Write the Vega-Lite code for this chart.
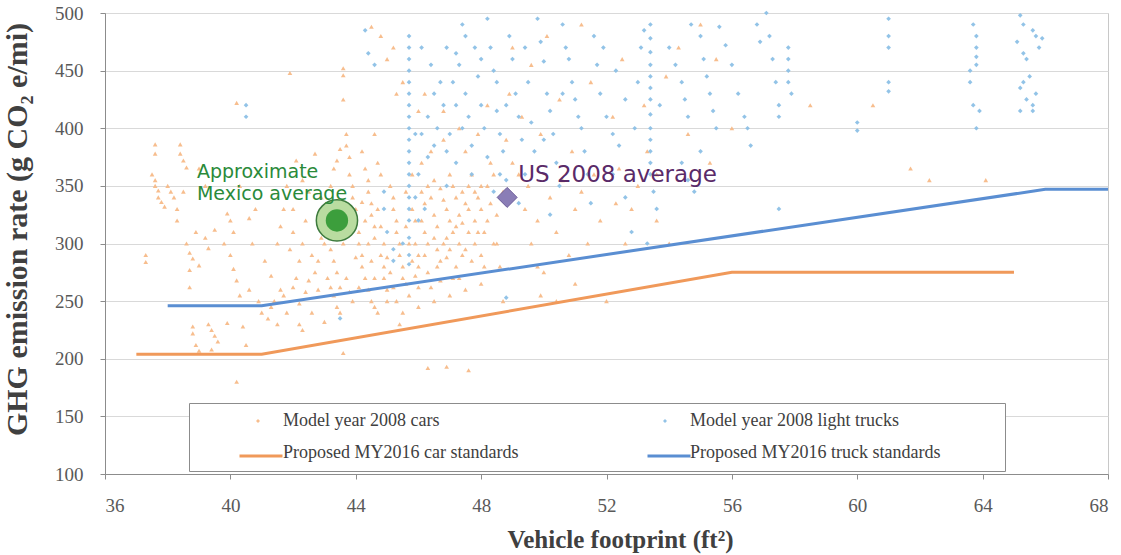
{
  "$schema": "https://vega.github.io/schema/vega-lite/v6.json",
  "width": 1003,
  "height": 461,
  "autosize": {"type": "none"},
  "padding": {"left": 105, "top": 13, "right": 13, "bottom": 81},
  "background": "white",
  "config": {
    "view": {"stroke": "#c8c8c8"},
    "axis": {
      "labelFont": "Liberation Serif",
      "labelFontSize": 19,
      "labelColor": "#595959",
      "titleFont": "Liberation Serif",
      "titleFontWeight": "bold",
      "titleColor": "#404040",
      "domainColor": "#8c8c8c",
      "tickColor": "#8c8c8c",
      "tickSize": 5,
      "gridColor": "#d9d9d9"
    }
  },
  "datasets": {
    "cars": [
      {"x":37.3,"y":290},{"x":37.3,"y":284},{"x":37.6,"y":386},{"x":37.6,"y":378},{"x":37.5,"y":360},{"x":37.6,"y":355},{"x":37.6,"y":350},{"x":37.7,"y":346},{"x":37.7,"y":340},{"x":37.8,"y":336},{"x":37.9,"y":332},{"x":38.0,"y":350},{"x":38.1,"y":345},{"x":38.2,"y":340},{"x":38.3,"y":330},{"x":38.4,"y":386},{"x":38.4,"y":378},{"x":38.5,"y":372},{"x":38.6,"y":366},{"x":38.3,"y":320},{"x":38.5,"y":345},{"x":38.6,"y":300},{"x":38.7,"y":292},{"x":38.8,"y":287},{"x":38.9,"y":310},{"x":39.0,"y":281},{"x":38.8,"y":228},{"x":38.8,"y":222},{"x":38.9,"y":212},{"x":39.0,"y":207},{"x":39.3,"y":230},{"x":39.4,"y":225},{"x":39.5,"y":220},{"x":39.6,"y":215},{"x":39.4,"y":208},{"x":39.2,"y":305},{"x":39.3,"y":296},{"x":39.5,"y":312},{"x":39.8,"y":300},{"x":39.9,"y":326},{"x":40.0,"y":320},{"x":40.1,"y":310},{"x":40.0,"y":290},{"x":40.1,"y":278},{"x":40.2,"y":268},{"x":40.3,"y":255},{"x":40.2,"y":422},{"x":40.2,"y":180},{"x":40.4,"y":228},{"x":40.5,"y":212},{"x":40.6,"y":260},{"x":40.7,"y":300},{"x":40.8,"y":330},{"x":40.9,"y":250},{"x":41.0,"y":240},{"x":38.7,"y":262},{"x":38.7,"y":277},{"x":39.9,"y":231},
      {"x":41.2,"y":235},{"x":41.3,"y":245},{"x":41.4,"y":250},{"x":41.5,"y":230},{"x":41.6,"y":260},{"x":41.7,"y":255},{"x":41.8,"y":240},{"x":41.5,"y":300},{"x":41.6,"y":315},{"x":41.7,"y":330},{"x":41.8,"y":350},{"x":41.9,"y":295},{"x":42.0,"y":310},{"x":42.1,"y":270},{"x":42.2,"y":285},{"x":42.3,"y":300},{"x":42.2,"y":230},{"x":42.3,"y":225},{"x":42.4,"y":320},{"x":42.5,"y":345},{"x":42.6,"y":290},{"x":42.7,"y":275},{"x":42.8,"y":260},{"x":42.9,"y":305},{"x":42.4,"y":258},{"x":42.6,"y":240},{"x":41.9,"y":448},{"x":42.1,"y":372},{"x":42.7,"y":378},{"x":42.9,"y":340},
      {"x":43.0,"y":300},{"x":43.1,"y":310},{"x":43.2,"y":295},{"x":43.3,"y":285},{"x":43.1,"y":270},{"x":43.2,"y":262},{"x":43.3,"y":255},{"x":43.4,"y":245},{"x":43.5,"y":240},{"x":43.0,"y":232},{"x":43.6,"y":300},{"x":43.6,"y":452},{"x":43.6,"y":446},{"x":43.6,"y":425},{"x":43.7,"y":395},{"x":43.7,"y":385},{"x":43.8,"y":375},{"x":43.8,"y":360},{"x":43.9,"y":350},{"x":43.9,"y":340},{"x":44.0,"y":330},{"x":44.0,"y":320},{"x":44.1,"y":310},{"x":44.1,"y":300},{"x":44.2,"y":290},{"x":44.2,"y":280},{"x":44.3,"y":270},{"x":44.3,"y":365},{"x":44.4,"y":355},{"x":44.4,"y":345},{"x":44.5,"y":335},{"x":44.5,"y":325},{"x":44.6,"y":315},{"x":44.6,"y":305},{"x":44.4,"y":260},{"x":44.5,"y":250},{"x":44.6,"y":245},{"x":44.7,"y":240},{"x":43.6,"y":205},{"x":44.2,"y":380},{"x":44.6,"y":395},{"x":44.7,"y":370},{"x":44.8,"y":360},{"x":44.8,"y":290},{"x":44.9,"y":280},{"x":44.9,"y":270},{"x":45.0,"y":260},{"x":45.0,"y":250},
      {"x":45.1,"y":350},{"x":45.2,"y":340},{"x":45.2,"y":330},{"x":45.3,"y":320},{"x":45.3,"y":310},{"x":45.4,"y":300},{"x":45.4,"y":290},{"x":45.5,"y":280},{"x":45.5,"y":270},{"x":45.6,"y":345},{"x":45.6,"y":265},{"x":45.7,"y":255},{"x":45.8,"y":360},{"x":45.8,"y":330},{"x":45.9,"y":320},{"x":45.9,"y":300},{"x":46.0,"y":290},{"x":46.0,"y":280},{"x":46.1,"y":370},{"x":46.1,"y":345},{"x":46.2,"y":335},{"x":46.2,"y":310},{"x":46.3,"y":300},{"x":46.3,"y":275},{"x":46.4,"y":380},{"x":46.4,"y":262},{"x":46.5,"y":355},{"x":46.5,"y":325},{"x":46.6,"y":315},{"x":46.6,"y":295},{"x":46.7,"y":285},{"x":46.7,"y":348},{"x":46.8,"y":338},{"x":46.8,"y":390},{"x":46.9,"y":330},{"x":46.9,"y":305},{"x":47.0,"y":295},{"x":47.0,"y":360},{"x":47.1,"y":350},{"x":47.1,"y":270},{"x":47.2,"y":340},{"x":47.2,"y":315},{"x":47.3,"y":325},{"x":47.3,"y":300},{"x":47.4,"y":290},{"x":47.4,"y":345},{"x":47.5,"y":335},{"x":47.5,"y":380},{"x":47.6,"y":310},{"x":47.6,"y":350},{"x":47.7,"y":360},{"x":47.8,"y":300},{"x":47.8,"y":320},{"x":47.9,"y":340},{"x":48.0,"y":330},{"x":48.0,"y":290},{"x":48.1,"y":310},{"x":48.2,"y":350},{"x":48.3,"y":370},{"x":48.4,"y":300},{"x":48.5,"y":325},{"x":48.6,"y":280},{"x":48.7,"y":345},{"x":46.3,"y":192},{"x":46.9,"y":193},{"x":45.4,"y":230},{"x":46.0,"y":245},{"x":46.5,"y":250},{"x":47.0,"y":255},{"x":47.5,"y":260},{"x":48.0,"y":265},{"x":45.0,"y":460},{"x":45.5,"y":440},{"x":46.2,"y":430},{"x":46.8,"y":415},{"x":47.3,"y":400},{"x":47.9,"y":395},{"x":44.8,"y":480},{"x":45.2,"y":470},
      {"x":48.8,"y":390},{"x":49.0,"y":370},{"x":49.2,"y":360},{"x":49.4,"y":330},{"x":49.6,"y":300},{"x":49.8,"y":280},{"x":50.0,"y":275},{"x":49.5,"y":350},{"x":49.8,"y":320},{"x":50.2,"y":340},{"x":50.4,"y":310},{"x":50.6,"y":355},{"x":50.8,"y":290},{"x":51.0,"y":330},{"x":51.2,"y":345},{"x":51.4,"y":300},{"x":51.6,"y":360},{"x":51.8,"y":320},{"x":52.0,"y":250},{"x":52.3,"y":335},{"x":52.6,"y":300},{"x":52.8,"y":330},{"x":53.0,"y":350},{"x":53.3,"y":380},{"x":53.6,"y":320},{"x":54.0,"y":300},{"x":49.0,"y":470},{"x":49.6,"y":455},{"x":50.1,"y":480},{"x":51.2,"y":490},{"x":52.5,"y":460},{"x":53.9,"y":445},{"x":54.3,"y":470},{"x":55.0,"y":490},{"x":55.5,"y":460},{"x":49.9,"y":255},{"x":50.4,"y":250},{"x":51.0,"y":265},{"x":48.7,"y":250},{"x":47.6,"y":190},
      {"x":56.0,"y":400},{"x":58.5,"y":420},{"x":60.5,"y":420},{"x":62.3,"y":355},{"x":61.7,"y":365},{"x":64.1,"y":355},
      {"x":42.0,"y":262},{"x":42.2,"y":248},{"x":42.5,"y":268},{"x":42.8,"y":285},{"x":43.0,"y":322},{"x":43.1,"y":335},{"x":43.2,"y":350},{"x":43.3,"y":365},{"x":43.4,"y":372},{"x":43.5,"y":382},{"x":43.4,"y":275},{"x":43.5,"y":262},{"x":43.7,"y":270},{"x":43.8,"y":258},{"x":43.9,"y":250},{"x":44.0,"y":288},{"x":44.1,"y":262},{"x":44.2,"y":336},{"x":44.3,"y":320},{"x":44.4,"y":300},{"x":44.5,"y":285},{"x":44.6,"y":270},{"x":44.7,"y":330},{"x":44.8,"y":315},{"x":44.9,"y":300},{"x":45.0,"y":288},{"x":45.1,"y":275},{"x":45.2,"y":262},{"x":45.3,"y":250},{"x":45.5,"y":240},{"x":45.6,"y":315},{"x":45.7,"y":300},{"x":45.8,"y":285},{"x":45.9,"y":272},{"x":46.0,"y":262},{"x":46.1,"y":320},{"x":46.2,"y":290},{"x":46.3,"y":350},{"x":46.4,"y":340},{"x":46.5,"y":305},{"x":46.6,"y":280},{"x":46.7,"y":268},{"x":46.8,"y":300},{"x":46.9,"y":288},{"x":47.0,"y":320},{"x":47.1,"y":310},{"x":47.2,"y":280},{"x":47.3,"y":270},{"x":47.4,"y":318},{"x":47.5,"y":295},{"x":47.6,"y":330},{"x":47.7,"y":285},{"x":47.8,"y":345},{"x":47.9,"y":310},{"x":48.0,"y":350},{"x":48.1,"y":280},{"x":48.2,"y":320},{"x":48.3,"y":335},{"x":48.4,"y":360},{"x":48.5,"y":300},{"x":44.5,"y":488},{"x":45.3,"y":430},{"x":46.0,"y":415},{"x":48.2,"y":420},{"x":48.9,"y":430},{"x":49.3,"y":410},{"x":50.5,"y":425},{"x":51.5,"y":440},{"x":52.2,"y":410},{"x":53.2,"y":420},{"x":54.6,"y":395},{"x":55.3,"y":370},{"x":52.4,"y":365},{"x":53.6,"y":360},{"x":50.9,"y":380},{"x":49.9,"y":395},{"x":41.1,"y":285},{"x":41.3,"y":272},{"x":40.6,"y":322},{"x":40.3,"y":350},{"x":39.2,"y":350},{"x":39.0,"y":365},{"x":42.0,"y":330},{"x":42.3,"y":355}
    ],
    "trucks": [
      {"x":40.5,"y":420},{"x":40.5,"y":410},{"x":43.5,"y":235},{"x":44.3,"y":485},{"x":44.4,"y":465},{"x":44.6,"y":455},{"x":44.9,"y":345},{"x":44.9,"y":330},{"x":45.0,"y":310},{"x":45.2,"y":295},{"x":45.2,"y":285},
      {"x":45.7,"y":480},{"x":45.7,"y":470},{"x":45.7,"y":460},{"x":45.7,"y":450},{"x":45.7,"y":440},{"x":45.7,"y":430},{"x":45.7,"y":420},{"x":45.7,"y":410},{"x":45.7,"y":400},{"x":45.7,"y":390},{"x":45.7,"y":380},{"x":45.7,"y":370},{"x":45.7,"y":360},{"x":45.7,"y":350},{"x":45.7,"y":340},{"x":45.7,"y":330},{"x":45.7,"y":320},{"x":45.7,"y":305},{"x":45.7,"y":290},{"x":45.7,"y":282},
      {"x":45.9,"y":395},{"x":46.0,"y":360},{"x":46.2,"y":330},{"x":46.3,"y":375},{"x":46.5,"y":385},{"x":46.3,"y":410},{"x":46.6,"y":400},{"x":46.8,"y":420},{"x":46.9,"y":350},{"x":47.0,"y":395},{"x":47.1,"y":440},{"x":47.2,"y":465},{"x":47.3,"y":455},{"x":47.4,"y":490},{"x":47.5,"y":480},{"x":47.5,"y":430},{"x":47.6,"y":410},{"x":47.7,"y":385},{"x":47.7,"y":360},{"x":47.8,"y":470},{"x":47.9,"y":445},{"x":48.0,"y":460},{"x":48.0,"y":420},{"x":48.1,"y":400},{"x":48.2,"y":375},{"x":48.2,"y":495},{"x":48.3,"y":470},{"x":48.4,"y":450},{"x":48.5,"y":440},{"x":48.5,"y":415},{"x":48.6,"y":395},{"x":48.7,"y":380},{"x":48.6,"y":360},{"x":48.8,"y":355},{"x":48.4,"y":345},{"x":48.8,"y":253},
      {"x":48.9,"y":480},{"x":49.0,"y":460},{"x":49.1,"y":430},{"x":49.2,"y":410},{"x":49.3,"y":390},{"x":49.4,"y":470},{"x":49.5,"y":440},{"x":49.6,"y":405},{"x":49.7,"y":380},{"x":49.8,"y":495},{"x":49.9,"y":475},{"x":50.0,"y":458},{"x":50.1,"y":430},{"x":50.2,"y":415},{"x":50.3,"y":395},{"x":50.4,"y":370},{"x":50.5,"y":350},{"x":50.6,"y":490},{"x":50.7,"y":470},{"x":50.8,"y":460},{"x":50.9,"y":440},{"x":51.0,"y":425},{"x":51.1,"y":410},{"x":51.2,"y":400},{"x":51.3,"y":380},{"x":51.4,"y":360},{"x":51.5,"y":335},{"x":51.6,"y":480},{"x":51.7,"y":455},{"x":51.8,"y":430},{"x":52.0,"y":410},{"x":52.2,"y":395},{"x":52.4,"y":385},{"x":52.6,"y":340},{"x":52.8,"y":310},{"x":53.0,"y":440},{"x":53.1,"y":470},{"x":53.2,"y":485},
      {"x":53.4,"y":490},{"x":53.4,"y":478},{"x":53.4,"y":466},{"x":53.4,"y":455},{"x":53.4,"y":445},{"x":53.4,"y":435},{"x":53.4,"y":425},{"x":53.4,"y":412},{"x":53.4,"y":400},{"x":53.4,"y":390},{"x":53.4,"y":380},{"x":53.4,"y":370},{"x":53.4,"y":360},{"x":53.5,"y":345},{"x":53.6,"y":330},{"x":53.3,"y":300},{"x":53.7,"y":420},{"x":54.0,"y":470},{"x":54.2,"y":455},{"x":54.4,"y":440},{"x":54.5,"y":425},{"x":54.6,"y":410},{"x":54.4,"y":370},{"x":54.6,"y":355},{"x":54.8,"y":345},{"x":54.7,"y":490},{"x":55.0,"y":480},{"x":55.1,"y":460},{"x":55.2,"y":445},{"x":55.3,"y":430},{"x":55.4,"y":415},{"x":55.5,"y":400},{"x":55.0,"y":380},{"x":55.6,"y":488},{"x":55.8,"y":472},{"x":56.0,"y":455},{"x":56.2,"y":430},{"x":56.4,"y":410},{"x":56.5,"y":400},{"x":56.6,"y":385},
      {"x":57.1,"y":500},{"x":57.2,"y":480},{"x":57.3,"y":460},{"x":57.4,"y":440},{"x":57.5,"y":420},{"x":57.5,"y":410},{"x":57.5,"y":330},{"x":57.8,"y":470},{"x":57.8,"y":460},{"x":57.8,"y":450},{"x":57.8,"y":440},{"x":57.9,"y":430},{"x":56.8,"y":490},{"x":56.9,"y":475},
      {"x":60.0,"y":405},{"x":60.0,"y":398},{"x":61.0,"y":495},{"x":61.0,"y":480},{"x":61.0,"y":470},{"x":61.0,"y":440},{"x":61.0,"y":432},
      {"x":63.7,"y":490},{"x":63.8,"y":480},{"x":63.8,"y":470},{"x":63.8,"y":462},{"x":63.8,"y":455},{"x":63.6,"y":450},{"x":63.6,"y":440},{"x":63.7,"y":420},{"x":63.9,"y":415},{"x":63.8,"y":400},
      {"x":65.2,"y":498},{"x":65.3,"y":490},{"x":65.1,"y":475},{"x":65.3,"y":465},{"x":65.4,"y":460},{"x":65.6,"y":485},{"x":65.7,"y":480},{"x":65.8,"y":470},{"x":65.5,"y":445},{"x":65.3,"y":440},{"x":65.2,"y":435},{"x":65.4,"y":425},{"x":65.6,"y":420},{"x":65.2,"y":415},{"x":65.6,"y":415},{"x":65.7,"y":430},{"x":65.9,"y":478},
      {"x":46.1,"y":470},{"x":46.4,"y":455},{"x":46.7,"y":440},{"x":46.9,"y":470},{"x":47.2,"y":420},{"x":47.4,"y":400},{"x":46.5,"y":430},{"x":46.1,"y":395},{"x":46.9,"y":380},{"x":47.2,"y":370},{"x":48.8,"y":420},{"x":49.4,"y":360},{"x":50.0,"y":390},{"x":50.6,"y":430},{"x":51.9,"y":470},{"x":52.3,"y":450},{"x":52.6,"y":425},{"x":52.9,"y":400},{"x":52.2,"y":360},{"x":50.2,"y":325},{"x":49.2,"y":335},{"x":46.0,"y":320},{"x":45.5,"y":300},{"x":45.9,"y":340}
    ],
    "standards": [
      {"x":37,"y":204,"series":"Proposed MY2016 car standards"},
      {"x":41,"y":204,"series":"Proposed MY2016 car standards"},
      {"x":56,"y":275,"series":"Proposed MY2016 car standards"},
      {"x":65,"y":275,"series":"Proposed MY2016 car standards"},
      {"x":38,"y":246,"series":"Proposed MY2016 truck standards"},
      {"x":41,"y":246,"series":"Proposed MY2016 truck standards"},
      {"x":66,"y":347,"series":"Proposed MY2016 truck standards"},
      {"x":68,"y":347,"series":"Proposed MY2016 truck standards"}
    ],
    "mexico": [{"x":43.4,"y":320,"label":"Approximate\nMexico average"}],
    "us": [{"x":48.83,"y":340,"label":"US 2008 average"}]
  },
  "layer": [
    {
      "data": {"name": "cars"},
      "mark": {"type": "point", "filled": true, "shape": "triangle-up", "size": 22, "opacity": 0.95},
      "encoding": {
        "x": {"field": "x", "type": "quantitative", "scale": {"domain": [36, 68], "nice": false},
              "axis": {"values": [36,40,44,48,52,56,60,64,68], "grid": false, "title": "Vehicle footprint (ft²)", "titleFontSize": 25, "labelPadding": 17, "titlePadding": 12, "titleX": 515}},
        "y": {"field": "y", "type": "quantitative", "scale": {"domain": [100, 500], "nice": false},
              "axis": {"values": [100,150,200,250,300,350,400,450,500], "grid": true, "title": "GHG emission rate (g CO₂ e/mi)", "titleFontSize": 30, "labelPadding": 17, "titlePadding": 22, "titleY": 216}},
        "fill": {
          "datum": "Model year 2008 cars", "type": "nominal",
          "scale": {
            "domain": ["Model year 2008 cars", "Model year 2008 light trucks", "Proposed MY2016 car standards", "Proposed MY2016 truck standards"],
            "range": ["#f7b987", "#8cc0e6", "transparent", "transparent"]
          },
          "legend": {
            "title": " ",
            "titleOrient": "right",
            "titlePadding": 56,
            "titleFontSize": 18,
            "orient": "none",
            "legendX": 84,
            "legendY": 390,
            "direction": "horizontal",
            "columns": 2,
            "columnPadding": 86,
            "rowPadding": 14,
            "padding": 9,
            "strokeColor": "#8c8c8c",
            "fillColor": "white",
            "labelFont": "Liberation Serif",
            "labelFontSize": 18,
            "labelColor": "#404040",
            "labelLimit": 500,
            "labelOffset": 16,
            "symbolType": "diamond",
            "symbolSize": 16,
            "symbolOffset": 51,
            "symbolStrokeWidth": 0
          }
        }
      }
    },
    {
      "data": {"name": "trucks"},
      "mark": {"type": "point", "filled": true, "shape": "diamond", "size": 22, "opacity": 0.95},
      "encoding": {
        "x": {"field": "x", "type": "quantitative"},
        "y": {"field": "y", "type": "quantitative"},
        "fill": {"datum": "Model year 2008 light trucks", "type": "nominal"}
      }
    },
    {
      "data": {"name": "standards"},
      "mark": {"type": "line", "strokeWidth": 3},
      "encoding": {
        "x": {"field": "x", "type": "quantitative"},
        "y": {"field": "y", "type": "quantitative"},
        "stroke": {
          "field": "series", "type": "nominal",
          "scale": {
            "domain": ["Proposed MY2016 car standards", "Proposed MY2016 truck standards"],
            "range": ["#f0995a", "#5a8ed2"]
          },
          "legend": {
            "title": null,
            "orient": "none",
            "legendX": 133,
            "legendY": 420,
            "direction": "horizontal",
            "columns": 2,
            "columnPadding": 352,
            "padding": 0,
            "labelExpr": "''",
            "labelOffset": 0,
            "symbolType": "stroke",
            "symbolSize": 1849,
            "symbolStrokeWidth": 3
          }
        }
      }
    },
    {
      "data": {"name": "mexico"},
      "mark": {"type": "point", "shape": "circle", "filled": true, "size": 1700, "fill": "#b9dca0", "stroke": "#3d7a3d", "strokeWidth": 1.5, "opacity": 1},
      "encoding": {"x": {"field": "x", "type": "quantitative"}, "y": {"field": "y", "type": "quantitative"}}
    },
    {
      "data": {"name": "mexico"},
      "mark": {"type": "point", "shape": "circle", "filled": true, "size": 500, "fill": "#3c9e3c", "opacity": 1},
      "encoding": {"x": {"field": "x", "type": "quantitative"}, "y": {"field": "y", "type": "quantitative"}}
    },
    {
      "data": {"name": "mexico"},
      "mark": {"type": "text", "align": "left", "baseline": "alphabetic", "dx": -140, "dy": -42, "lineBreak": "\n", "lineHeight": 22, "font": "DejaVu Sans", "fontSize": 19, "fill": "#2a8a3a"},
      "encoding": {"x": {"field": "x", "type": "quantitative"}, "y": {"field": "y", "type": "quantitative"}, "text": {"field": "label"}}
    },
    {
      "data": {"name": "us"},
      "mark": {"type": "point", "shape": "diamond", "filled": true, "size": 400, "fill": "#8a7db6", "stroke": "#6b5b98", "strokeWidth": 1, "opacity": 1},
      "encoding": {"x": {"field": "x", "type": "quantitative"}, "y": {"field": "y", "type": "quantitative"}}
    },
    {
      "data": {"name": "us"},
      "mark": {"type": "text", "align": "left", "baseline": "alphabetic", "dx": 11, "dy": -15, "font": "DejaVu Sans", "fontSize": 23, "fill": "#5a2a68"},
      "encoding": {"x": {"field": "x", "type": "quantitative"}, "y": {"field": "y", "type": "quantitative"}, "text": {"field": "label"}}
    }
  ]
}
